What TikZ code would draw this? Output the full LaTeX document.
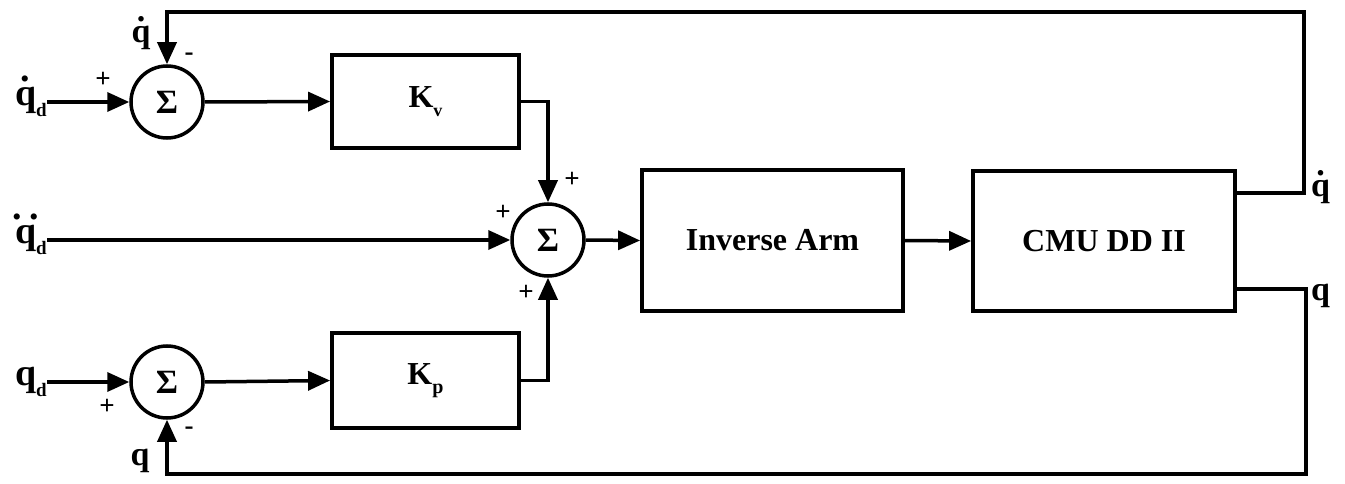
\documentclass[tikz,border=0pt]{standalone}
\usepackage{fontspec}
\setmainfont{Liberation Serif}
\usetikzlibrary{arrows.meta}
\tikzset{
  line/.style={line width=3.5pt},
  arr/.style={line, -{Triangle[length=22pt,width=19pt]}},
  sumnode/.style={circle, draw, line width=3.5pt, minimum size=72pt, inner sep=0pt, font=\fontsize{34}{36}\selectfont\bfseries},
  blk/.style={draw, line width=3.8pt, inner sep=0pt, font=\fontsize{32}{34}\selectfont\bfseries},
  sig/.style={inner sep=0pt, font=\fontsize{34}{36}\selectfont\bfseries},
  insig/.style={inner sep=0pt, font=\fontsize{38}{40}\selectfont\bfseries},
  sgn/.style={inner sep=0pt, font=\fontsize{27}{29}\selectfont\bfseries}
}
\newcommand{\subd}{\lower0.3em\hbox{\fontsize{19}{20}\selectfont d}}
\newcommand{\dq}{\hbox{\ooalign{q\cr\hidewidth\raise0.62em\hbox{.}\hidewidth\cr}}}
\newcommand{\ddq}{\hbox{\ooalign{q\cr\hidewidth\raise0.62em\hbox{.\kern0.2em.}\hidewidth\cr}}}
\begin{document}
\begin{tikzpicture}[x=1pt,y=-1pt]
\useasboundingbox (0,0) rectangle (1345,484);
% summing junctions
\node[sumnode] (S1) at (167,102) {Σ};
\node[sumnode] (S2) at (548,240) {Σ};
\node[sumnode] (S3) at (167,382) {Σ};
% blocks
\node[blk, minimum width=187pt, minimum height=93pt] (Kv) at (425.5,101.5) {K\lower0.3em\hbox{\fontsize{18}{20}\selectfont v}};
\node[blk, minimum width=187pt, minimum height=95pt] (Kp) at (425.5,380.5) {K\lower0.3em\hbox{\fontsize{20}{22}\selectfont p}};
\node[blk, minimum width=261pt, minimum height=141pt] (Inv) at (772.5,240.5) {Inverse Arm};
\node[blk, minimum width=262pt, minimum height=140pt] (CMU) at (1104,241) {CMU DD II};
% input coordinates
\coordinate (in1) at (47,102);
\coordinate (in2) at (47,240);
\coordinate (in3) at (47,382);
\node[insig, anchor=east] (L1) at (in1) {\dq\subd};
\node[insig, anchor=east] (L2) at (in2) {\ddq\subd};
\node[insig, anchor=east] (L3) at (in3) {q\subd};
% feedback coordinates
\coordinate (c1) at (1304,193);
\coordinate (c2) at (1304,12);
\coordinate (c3) at (1306,289);
\coordinate (c4) at (1306,474);
% connectors
\draw[arr] (in1) -- (S1.west);
\draw[arr] (S1.east) -- (Kv.west);
\draw[arr] (Kv.east) -| (S2.north);
\draw[arr] (in2) -- (S2.west);
\draw[arr] (S2.east) -- (Inv.west);
\draw[arr] (Inv.east) -- (CMU.west);
\draw[arr] (in3) -- (S3.west);
\draw[arr] (S3.east) -- (Kp.west);
\draw[arr] (Kp.east) -| (S2.south);
\draw[arr] (CMU.east |- c1) -- (c1) -- (c2) -| (S1.north);
\draw[arr] (CMU.east |- c3) -- (c3) -- (c4) -| (S3.south);
% signal labels
\node[sig] (qd1) at (141,34) {\dq};
\node[sig] (q1) at (140,461) {q};
\node[sig, anchor=west] (qd2) at (1311,188) {\dq};
\node[sig, anchor=west] (q2) at (1311,296) {q};
% signs
\node[sgn] (m1) at (189,57) {-};
\node[sgn] (p1) at (103,80) {+};
\node[sgn] (p2) at (572,180) {+};
\node[sgn] (p3) at (503,213) {+};
\node[sgn] (p4) at (526,293) {+};
\node[sgn] (p5) at (107,407) {+};
\node[sgn] (m2) at (189,431) {-};
\end{tikzpicture}
\end{document}
